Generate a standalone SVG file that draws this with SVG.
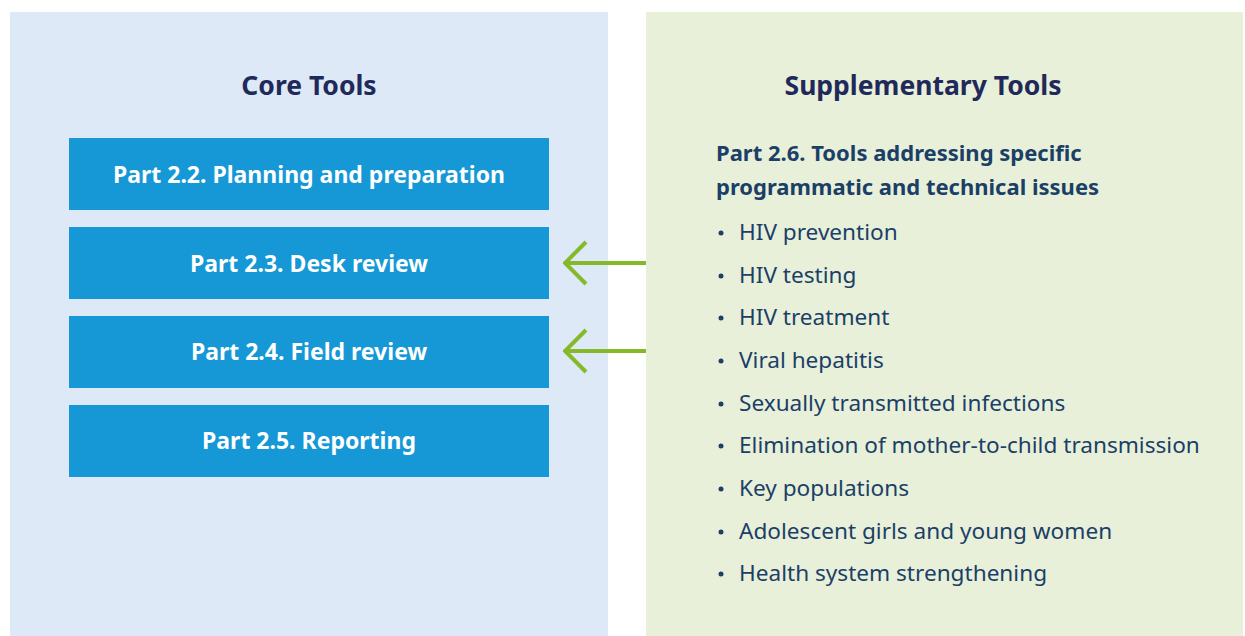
<svg xmlns="http://www.w3.org/2000/svg" width="1245" height="636" viewBox="0 0 1245 636">
  <style>
    .panel-core { fill: #DDE9F6; }
    .panel-supp { fill: #E8F0DA; }
    .box { fill: #1598D5; }
    .title { font-family: "Noto Sans", "Open Sans", sans-serif; font-weight: 700; font-size: 26.5px; fill: #1F2A5A; text-anchor: middle; }
    .box-label { font-family: "Noto Sans", "Open Sans", sans-serif; font-weight: 700; font-size: 23px; fill: #FFFFFF; text-anchor: middle; }
    .sub-head { font-family: "Noto Sans", "Open Sans", sans-serif; font-weight: 700; font-size: 22px; fill: #1B3F66; }
    .item { font-family: "Noto Sans", "Open Sans", sans-serif; font-size: 22.6px; fill: #1B3F66; }
    .bullet { fill: #1B3F66; }
    .arrow { fill: none; stroke: #86B929; stroke-width: 4; }
  </style>
  <defs>
    <!-- open chevron head, tip on the line end -->
    <marker id="chevron" viewBox="0 0 28 46" refX="26" refY="23" markerWidth="28" markerHeight="46" markerUnits="userSpaceOnUse" orient="auto">
      <path d="M5 2 L26 23 L5 44" fill="none" stroke="#86B929" stroke-width="4"/>
    </marker>
  </defs>

  <!-- background panels -->
  <rect class="panel-core" x="10" y="12" width="598" height="624"/>
  <rect class="panel-supp" x="646" y="12" width="597" height="624"/>

  <g id="core-tools">
    <text class="title" x="309" y="95">Core Tools</text>
  </g>

  <g id="part-2-2">
    <rect class="box" x="69" y="138" width="480" height="72"/>
    <text class="box-label" x="309" y="183">Part 2.2. Planning and preparation</text>
  </g>
  <g id="part-2-3">
    <rect class="box" x="69" y="227" width="480" height="72"/>
    <text class="box-label" x="309" y="272">Part 2.3. Desk review</text>
  </g>
  <g id="part-2-4">
    <rect class="box" x="69" y="316" width="480" height="72"/>
    <text class="box-label" x="309" y="360">Part 2.4. Field review</text>
  </g>
  <g id="part-2-5">
    <rect class="box" x="69" y="405" width="480" height="72"/>
    <text class="box-label" x="309" y="449">Part 2.5. Reporting</text>
  </g>

  <g id="supplementary-tools">
    <text class="title" x="923" y="95">Supplementary Tools</text>
    <text class="sub-head" x="716" y="161">Part 2.6. Tools addressing specific</text>
    <text class="sub-head" x="716" y="195">programmatic and technical issues</text>
    <g id="topics">
      <circle class="bullet" cx="721" cy="233" r="2.5"/>
      <text class="item" x="739" y="240">HIV prevention</text>
      <circle class="bullet" cx="721" cy="276" r="2.5"/>
      <text class="item" x="739" y="283">HIV testing</text>
      <circle class="bullet" cx="721" cy="318" r="2.5"/>
      <text class="item" x="739" y="325">HIV treatment</text>
      <circle class="bullet" cx="721" cy="361" r="2.5"/>
      <text class="item" x="739" y="368">Viral hepatitis</text>
      <circle class="bullet" cx="721" cy="404" r="2.5"/>
      <text class="item" x="739" y="411">Sexually transmitted infections</text>
      <circle class="bullet" cx="721" cy="446" r="2.5"/>
      <text class="item" x="739" y="453">Elimination of mother-to-child transmission</text>
      <circle class="bullet" cx="721" cy="489" r="2.5"/>
      <text class="item" x="739" y="496">Key populations</text>
      <circle class="bullet" cx="721" cy="532" r="2.5"/>
      <text class="item" x="739" y="539">Adolescent girls and young women</text>
      <circle class="bullet" cx="721" cy="574" r="2.5"/>
      <text class="item" x="739" y="581">Health system strengthening</text>
    </g>
  </g>

  <g id="connectors">
    <line class="arrow" x1="646" y1="263" x2="565" y2="263" marker-end="url(#chevron)"/>
    <line class="arrow" x1="646" y1="351" x2="565" y2="351" marker-end="url(#chevron)"/>
  </g>
</svg>
